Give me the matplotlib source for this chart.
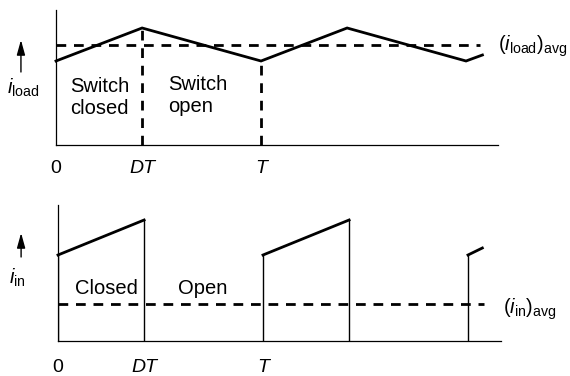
import matplotlib
matplotlib.use("Agg")
import matplotlib.pyplot as plt

plt.rcParams.update({
    "font.family": ["Liberation Sans", "DejaVu Sans"],
    "font.size": 14.5,
    "mathtext.fontset": "custom",
    "mathtext.rm": "Liberation Sans",
    "mathtext.it": "Liberation Sans:italic",
    "mathtext.bf": "Liberation Sans:bold",
})

# ---- datos (t en unidades de T, corriente en unidades arbitrarias) ----
D = 0.42

# corriente de carga
t_load = [0, D, 1, 1 + D, 2, 2.08]
i_load = [0.84, 1.17, 0.84, 1.17, 0.84, 0.90]
load_avg = 1.0
t_load_avg = [0, 2.07]

# corriente de entrada: rampas (switch cerrado)
t_in_ramps = [[0, D], [1, 1 + D], [2, 2.07]]
i_in_ramps = [[0.86, 1.21], [0.86, 1.21], [0.86, 0.93]]
t_in_drops = [D, 1 + D]            # apertura del switch
in_avg = 0.37
t_in_avg = [0, 2.08]

TICKS = [0, D, 1]
TICK_LABELS = ["0", "DT", "T"]

LW = 2.0
DASH = (3.5, 2.8)

fig = plt.figure(figsize=(5.7, 3.76), dpi=100)

# posiciones en pixeles del original -> fraccion de figura
W, H = 570, 376
ax1 = fig.add_axes([56 / W, (H - 145) / H, (498 - 56) / W, (145 - 10) / H])
ax2 = fig.add_axes([58 / W, (H - 341) / H, (501 - 58) / W, (341 - 205) / H])


def base(ax, xmax, ymax, pad):
    ax.set_xlim(0, xmax)
    ax.set_ylim(0, ymax)
    for s in ("top", "right"):
        ax.spines[s].set_visible(False)
    for s in ("left", "bottom"):
        ax.spines[s].set_linewidth(0.9)
    ax.set_yticks([])
    ax.set_xticks(TICKS)
    ax.set_xticklabels(TICK_LABELS)
    for lbl in ax.get_xticklabels()[1:]:
        lbl.set_fontstyle("italic")
    ax.tick_params(axis="x", length=0, pad=pad, labelsize=14)
    ax.patch.set_visible(False)


def arrow(ax, x, y0, y1):
    ax.annotate("", xy=(x, y1), xytext=(x, y0),
                arrowprops=dict(arrowstyle="-|>,head_length=0.9,head_width=0.25",
                                color="k", lw=1.0, mutation_scale=10,
                                shrinkA=0, shrinkB=0),
                annotation_clip=False)


# ── (a) i_load ──────────────────────────────────────────────
base(ax1, 2.156, 1.35, 10.5)
ax1.plot(t_load, i_load, "k-", lw=LW, solid_joinstyle="miter", clip_on=False)
ax1.plot(t_load_avg, [load_avg] * 2, "k--", lw=LW, dashes=DASH, clip_on=False)
ax1.plot([D, D], [0, i_load[1]], "k--", lw=LW, dashes=DASH)
ax1.plot([1, 1], [0, i_load[2]], "k--", lw=LW, dashes=DASH)

ax1.text(0.068, 0.48, "Switch\nclosed", ha="left", va="center", linespacing=1.2)
ax1.text(0.546, 0.49, "Switch\nopen", ha="left", va="center", linespacing=1.2)
ax1.text(2.156, 0.99, r"$(i_{\mathrm{load}})_{\mathrm{avg}}$", ha="left",
         va="center", clip_on=False)
ax1.text(-0.16, 0.57, r"$i_{\mathrm{load}}$", ha="center", va="center",
         clip_on=False)
arrow(ax1, -0.171, 0.73, 1.05)

# ── (b) i_in ────────────────────────────────────────────────
base(ax2, 2.161, 1.36, 13)
for tt, ii in zip(t_in_ramps, i_in_ramps):
    ax2.plot(tt, ii, "k-", lw=LW, clip_on=False)
    ax2.plot([tt[0], tt[0]], [0, ii[0]], "k-", lw=1.0)
for td, ii in zip(t_in_drops, i_in_ramps):
    ax2.plot([td, td], [0, ii[1]], "k-", lw=1.0)
ax2.plot(t_in_avg, [in_avg] * 2, "k--", lw=LW, dashes=DASH, clip_on=False)

ax2.text(0.234, 0.53, "Closed", ha="center", va="center")
ax2.text(0.707, 0.53, "Open", ha="center", va="center")
ax2.text(2.17, 0.32, r"$(i_{\mathrm{in}})_{\mathrm{avg}}$", ha="left",
         va="center", clip_on=False)
ax2.text(-0.2, 0.63, r"$i_{\mathrm{in}}$", ha="center", va="center",
         clip_on=False)
arrow(ax2, -0.18, 0.84, 1.08)

fig.savefig("out.png", dpi=100)
